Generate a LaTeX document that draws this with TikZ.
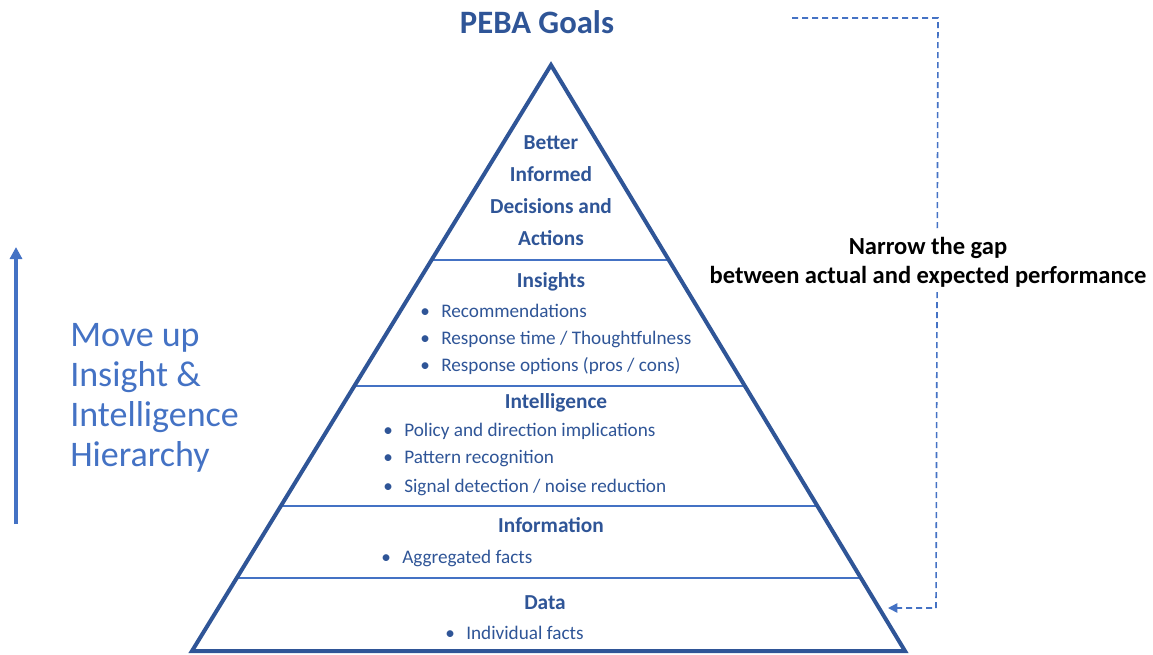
\documentclass[tikz,border=0pt]{standalone}
\usepackage{fontspec}
\setmainfont{Carlito}
\usetikzlibrary{arrows.meta}
\definecolor{pebadark}{HTML}{2F5597}
\definecolor{pebablue}{HTML}{4472C4}
\newcommand\itm[1]{\makebox[15.75pt][l]{\textbullet}#1}
\tikzset{
 tierhead/.style={font=\bfseries\fontsize{16}{24}\selectfont,text=pebadark,align=center},
 tieritem/.style={font=\fontsize{14.4}{21}\selectfont,text=pebadark,anchor=west,inner sep=0pt},
 tierline/.style={draw=pebablue,line width=2.2pt},
}
\begin{document}
\begin{tikzpicture}[x=0.75pt,y=-0.75pt]
\useasboundingbox (0,0) rectangle (1153,654);
% pyramid
\coordinate (apex) at (551,65);
\coordinate (bl) at (192,651);
\coordinate (br) at (905,651);
\draw[tierline] (431.5,260) -- (669,260);
\draw[tierline] (354.5,386) -- (745,386);
\draw[tierline] (281,506) -- (817.5,506);
\draw[tierline] (236.5,578) -- (861,578);
\draw[draw=pebadark,line width=3pt,line join=miter] (apex) -- (br) -- (bl) -- cycle;
\node (title) at (537,22) [font=\bfseries\fontsize{24.5}{28}\selectfont,text=pebadark] {PEBA Goals};
% tiers
\node (goal) at (551,191) [tierhead] {Better\\Informed\\Decisions and\\Actions};
\node (insights) at (551,282) [tierhead] {Insights};
\node (ins1) at (420,311) [tieritem] {\itm{Recommendations}};
\node (ins2) at (420,339) [tieritem] {\itm{Response time / Thoughtfulness}};
\node (ins3) at (420,366) [tieritem] {\itm{Response options (pros / cons)}};
\node (intel) at (556,403) [tierhead] {Intelligence};
\node (int1) at (383,431) [tieritem] {\itm{Policy and direction implications}};
\node (int2) at (383,459) [tieritem] {\itm{Pattern recognition}};
\node (int3) at (383,487) [tieritem] {\itm{Signal detection / noise reduction}};
\node (info) at (551,525) [tierhead] {Information};
\node (inf1) at (381,558) [tieritem] {\itm{Aggregated facts}};
\node (data) at (545,603) [tierhead] {Data};
\node (dat1) at (445,633) [tieritem] {\itm{Individual facts}};
% left arrow
\coordinate (upfoot) at (16,524);
\coordinate (uptip) at (16,247);
\draw[pebablue,line width=2.4pt,-{Triangle[length=9pt,width=9pt]}] (upfoot) -- (uptip);
\node (move) at (70,398) [anchor=west,inner sep=0pt,align=left,text=pebablue,font=\fontsize{27}{30}\selectfont] {Move up\\Insight \&\\Intelligence\\Hierarchy};
% gap connector
\coordinate (gapstart) at (792,18);
\coordinate (gapcorner) at (938,18);
\coordinate (gapdown) at (936,608);
\coordinate (gapend) at (888,608);
\draw[pebablue,line width=1.2pt,dash pattern=on 4.5pt off 3pt,-{Triangle[length=7pt,width=7pt]}] (gapstart) -- (gapcorner) -- (gapdown) -- (gapend);
\node (gap) at (928,262) [fill=white,align=center,font=\bfseries\fontsize{18.4}{22}\selectfont] {Narrow the gap\\between actual and expected performance};
\end{tikzpicture}
\end{document}
